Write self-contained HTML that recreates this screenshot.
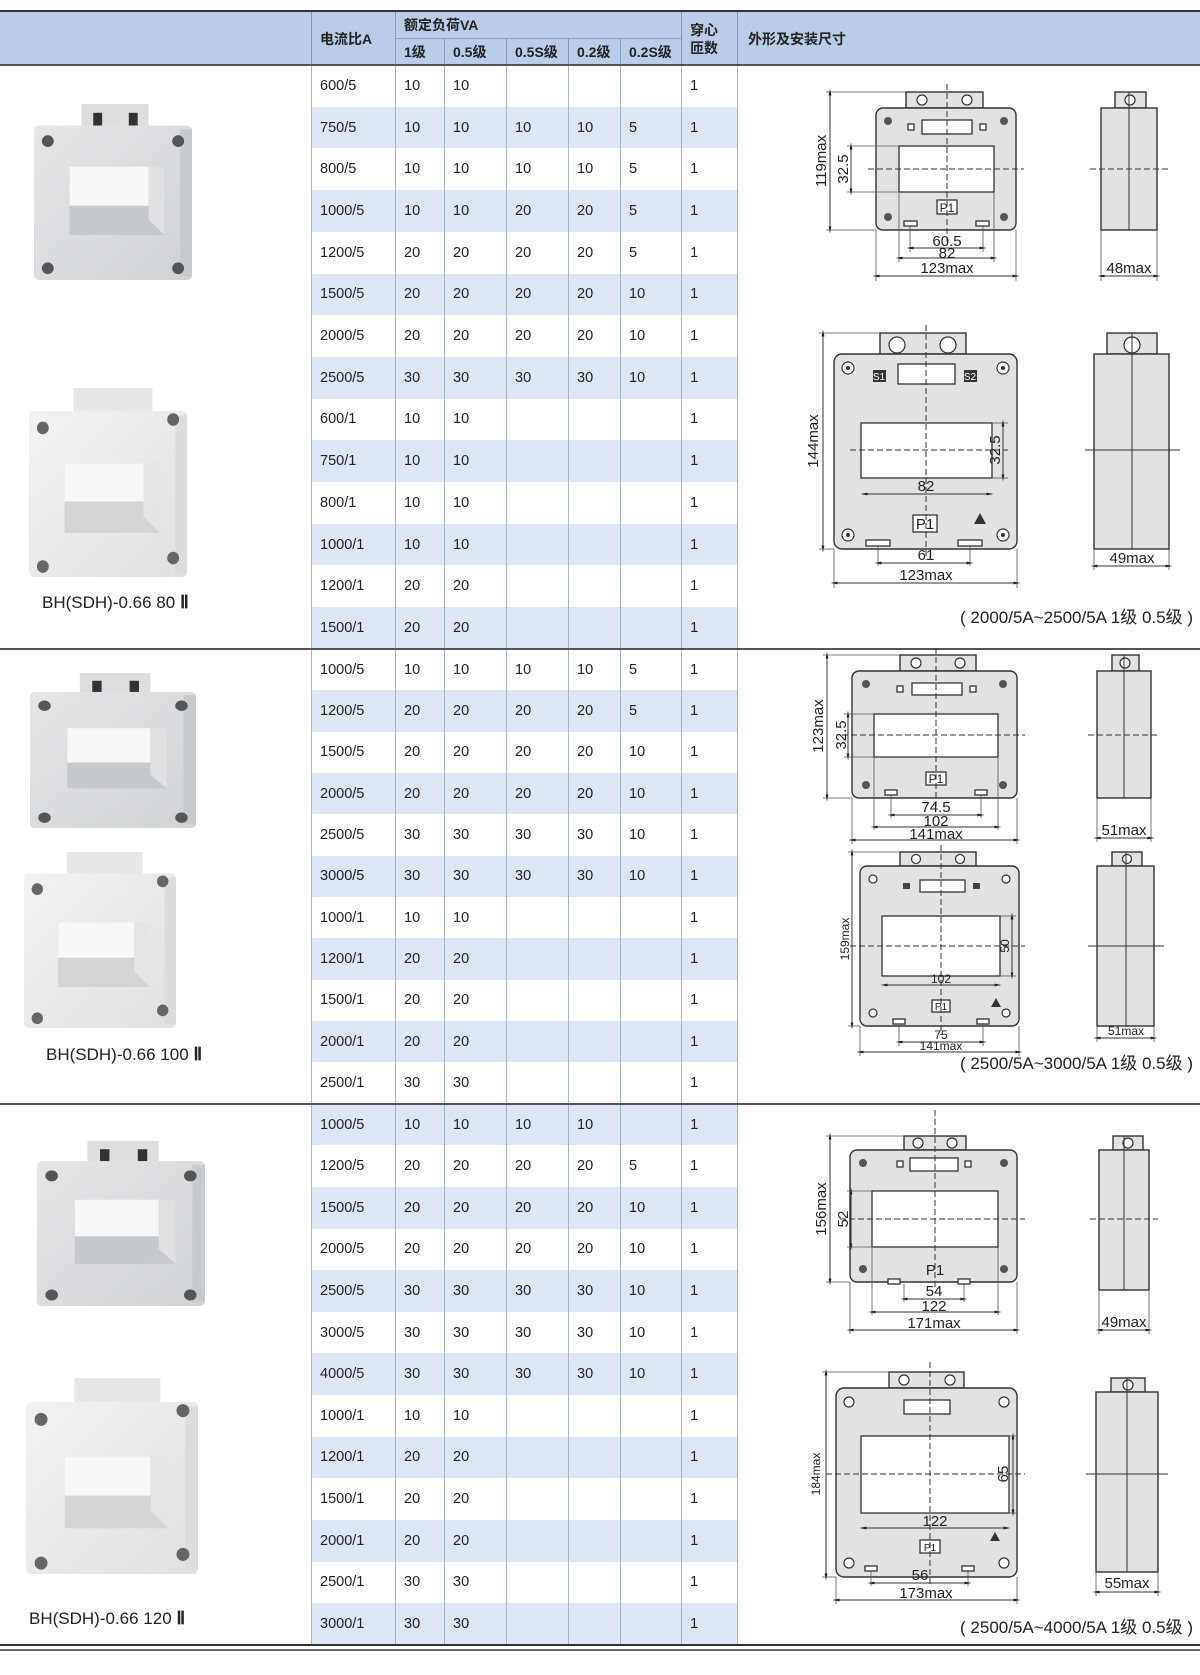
<!DOCTYPE html>
<html><head><meta charset="utf-8">
<style>
*{margin:0;padding:0;box-sizing:border-box}
body{width:1200px;height:1675px;background:#fff;position:relative;overflow:hidden;font-family:"Liberation Sans Narrow","Liberation Sans","Noto Sans CJK SC",sans-serif;color:#222}
table{position:absolute;left:0;top:12px;width:1200px;border-collapse:separate;border-spacing:0;table-layout:fixed}
td{padding:0 0 0 8px;font-size:14.5px;vertical-align:middle;white-space:nowrap;overflow:hidden}
.hd td{background:#b9cde9;font-weight:bold;font-size:14px;font-family:"Liberation Sans","Noto Sans CJK SC",sans-serif;border-left:1px solid #8399b8}
.hd td.n{border-left:none}
.r2 td{border-top:1px solid #8da4c4}
.m td{border-left:1px solid #a6b4c8}
.m td.L{border-left:none}
.b td.c{background:#dce6f4}
.s1{height:41.71px}.s2{height:41.36px}.s3{height:41.62px}
.ln{position:absolute;left:0;width:1200px}
.lbl{position:absolute;font-family:"Liberation Sans",sans-serif;font-size:17px;color:#222}
.lbl b{font-family:"Liberation Serif",serif;font-size:18px}
svg{position:absolute;left:0;top:0}
.B{fill:#e2e2e2;stroke:#333;stroke-width:1.4}
.W{fill:#fff;stroke:#333;stroke-width:1.3}
.S{fill:#fff;stroke:#333;stroke-width:1.2}
.C{stroke:#333;stroke-width:1;stroke-dasharray:6 3;fill:none}
.T{stroke:#333;stroke-width:1;fill:none}
.D{stroke:#333;stroke-width:1;fill:none;marker-start:url(#a);marker-end:url(#a)}
.E{stroke:#555;stroke-width:.8;fill:none}
.tx{font-family:"Liberation Sans",sans-serif;font-size:15px;fill:#222;text-anchor:middle}
.sm{font-size:12px}
</style></head><body>
<div class="ln" style="top:10px;height:2px;background:#333"></div>

<table>
<colgroup><col style="width:311px"><col style="width:84px"><col style="width:49px"><col style="width:62px"><col style="width:62px"><col style="width:52px"><col style="width:61px"><col style="width:56px"><col style="width:463px"></colgroup>
<tr class="hd" style="height:26px"><td class="n" rowspan="2"></td><td rowspan="2">电流比A</td><td colspan="5">额定负荷VA</td><td rowspan="2" style="line-height:18px">穿心<br>匝数</td><td rowspan="2" style="padding-left:10px">外形及安装尺寸</td></tr>
<tr class="hd r2" style="height:27px"><td>1级</td><td>0.5级</td><td>0.5S级</td><td>0.2级</td><td>0.2S级</td></tr>

<tr class="m s1"><td class="L" rowspan="14"></td><td class="c">600/5</td><td class="c">10</td><td class="c">10</td><td class="c"></td><td class="c"></td><td class="c"></td><td class="c">1</td><td rowspan="14"></td></tr>
<tr class="m s1 b"><td class="c">750/5</td><td class="c">10</td><td class="c">10</td><td class="c">10</td><td class="c">10</td><td class="c">5</td><td class="c">1</td></tr>
<tr class="m s1"><td class="c">800/5</td><td class="c">10</td><td class="c">10</td><td class="c">10</td><td class="c">10</td><td class="c">5</td><td class="c">1</td></tr>
<tr class="m s1 b"><td class="c">1000/5</td><td class="c">10</td><td class="c">10</td><td class="c">20</td><td class="c">20</td><td class="c">5</td><td class="c">1</td></tr>
<tr class="m s1"><td class="c">1200/5</td><td class="c">20</td><td class="c">20</td><td class="c">20</td><td class="c">20</td><td class="c">5</td><td class="c">1</td></tr>
<tr class="m s1 b"><td class="c">1500/5</td><td class="c">20</td><td class="c">20</td><td class="c">20</td><td class="c">20</td><td class="c">10</td><td class="c">1</td></tr>
<tr class="m s1"><td class="c">2000/5</td><td class="c">20</td><td class="c">20</td><td class="c">20</td><td class="c">20</td><td class="c">10</td><td class="c">1</td></tr>
<tr class="m s1 b"><td class="c">2500/5</td><td class="c">30</td><td class="c">30</td><td class="c">30</td><td class="c">30</td><td class="c">10</td><td class="c">1</td></tr>
<tr class="m s1"><td class="c">600/1</td><td class="c">10</td><td class="c">10</td><td class="c"></td><td class="c"></td><td class="c"></td><td class="c">1</td></tr>
<tr class="m s1 b"><td class="c">750/1</td><td class="c">10</td><td class="c">10</td><td class="c"></td><td class="c"></td><td class="c"></td><td class="c">1</td></tr>
<tr class="m s1"><td class="c">800/1</td><td class="c">10</td><td class="c">10</td><td class="c"></td><td class="c"></td><td class="c"></td><td class="c">1</td></tr>
<tr class="m s1 b"><td class="c">1000/1</td><td class="c">10</td><td class="c">10</td><td class="c"></td><td class="c"></td><td class="c"></td><td class="c">1</td></tr>
<tr class="m s1"><td class="c">1200/1</td><td class="c">20</td><td class="c">20</td><td class="c"></td><td class="c"></td><td class="c"></td><td class="c">1</td></tr>
<tr class="m s1 b"><td class="c">1500/1</td><td class="c">20</td><td class="c">20</td><td class="c"></td><td class="c"></td><td class="c"></td><td class="c">1</td></tr>

<tr class="m s2"><td class="L" rowspan="11"></td><td class="c">1000/5</td><td class="c">10</td><td class="c">10</td><td class="c">10</td><td class="c">10</td><td class="c">5</td><td class="c">1</td><td rowspan="11"></td></tr>
<tr class="m s2 b"><td class="c">1200/5</td><td class="c">20</td><td class="c">20</td><td class="c">20</td><td class="c">20</td><td class="c">5</td><td class="c">1</td></tr>
<tr class="m s2"><td class="c">1500/5</td><td class="c">20</td><td class="c">20</td><td class="c">20</td><td class="c">20</td><td class="c">10</td><td class="c">1</td></tr>
<tr class="m s2 b"><td class="c">2000/5</td><td class="c">20</td><td class="c">20</td><td class="c">20</td><td class="c">20</td><td class="c">10</td><td class="c">1</td></tr>
<tr class="m s2"><td class="c">2500/5</td><td class="c">30</td><td class="c">30</td><td class="c">30</td><td class="c">30</td><td class="c">10</td><td class="c">1</td></tr>
<tr class="m s2 b"><td class="c">3000/5</td><td class="c">30</td><td class="c">30</td><td class="c">30</td><td class="c">30</td><td class="c">10</td><td class="c">1</td></tr>
<tr class="m s2"><td class="c">1000/1</td><td class="c">10</td><td class="c">10</td><td class="c"></td><td class="c"></td><td class="c"></td><td class="c">1</td></tr>
<tr class="m s2 b"><td class="c">1200/1</td><td class="c">20</td><td class="c">20</td><td class="c"></td><td class="c"></td><td class="c"></td><td class="c">1</td></tr>
<tr class="m s2"><td class="c">1500/1</td><td class="c">20</td><td class="c">20</td><td class="c"></td><td class="c"></td><td class="c"></td><td class="c">1</td></tr>
<tr class="m s2 b"><td class="c">2000/1</td><td class="c">20</td><td class="c">20</td><td class="c"></td><td class="c"></td><td class="c"></td><td class="c">1</td></tr>
<tr class="m s2"><td class="c">2500/1</td><td class="c">30</td><td class="c">30</td><td class="c"></td><td class="c"></td><td class="c"></td><td class="c">1</td></tr>

<tr class="m s3 b"><td class="L" rowspan="13" style="background:none"></td><td class="c">1000/5</td><td class="c">10</td><td class="c">10</td><td class="c">10</td><td class="c">10</td><td class="c"></td><td class="c">1</td><td rowspan="13"></td></tr>
<tr class="m s3"><td class="c">1200/5</td><td class="c">20</td><td class="c">20</td><td class="c">20</td><td class="c">20</td><td class="c">5</td><td class="c">1</td></tr>
<tr class="m s3 b"><td class="c">1500/5</td><td class="c">20</td><td class="c">20</td><td class="c">20</td><td class="c">20</td><td class="c">10</td><td class="c">1</td></tr>
<tr class="m s3"><td class="c">2000/5</td><td class="c">20</td><td class="c">20</td><td class="c">20</td><td class="c">20</td><td class="c">10</td><td class="c">1</td></tr>
<tr class="m s3 b"><td class="c">2500/5</td><td class="c">30</td><td class="c">30</td><td class="c">30</td><td class="c">30</td><td class="c">10</td><td class="c">1</td></tr>
<tr class="m s3"><td class="c">3000/5</td><td class="c">30</td><td class="c">30</td><td class="c">30</td><td class="c">30</td><td class="c">10</td><td class="c">1</td></tr>
<tr class="m s3 b"><td class="c">4000/5</td><td class="c">30</td><td class="c">30</td><td class="c">30</td><td class="c">30</td><td class="c">10</td><td class="c">1</td></tr>
<tr class="m s3"><td class="c">1000/1</td><td class="c">10</td><td class="c">10</td><td class="c"></td><td class="c"></td><td class="c"></td><td class="c">1</td></tr>
<tr class="m s3 b"><td class="c">1200/1</td><td class="c">20</td><td class="c">20</td><td class="c"></td><td class="c"></td><td class="c"></td><td class="c">1</td></tr>
<tr class="m s3"><td class="c">1500/1</td><td class="c">20</td><td class="c">20</td><td class="c"></td><td class="c"></td><td class="c"></td><td class="c">1</td></tr>
<tr class="m s3 b"><td class="c">2000/1</td><td class="c">20</td><td class="c">20</td><td class="c"></td><td class="c"></td><td class="c"></td><td class="c">1</td></tr>
<tr class="m s3"><td class="c">2500/1</td><td class="c">30</td><td class="c">30</td><td class="c"></td><td class="c"></td><td class="c"></td><td class="c">1</td></tr>
<tr class="m s3 b"><td class="c">3000/1</td><td class="c">30</td><td class="c">30</td><td class="c"></td><td class="c"></td><td class="c"></td><td class="c">1</td></tr>
</table>

<div class="ln" style="top:64px;height:2px;background:#555"></div>
<div class="ln" style="top:648px;height:2px;background:#555"></div>
<div class="ln" style="top:1103px;height:2px;background:#555"></div>
<div class="ln" style="top:1644px;height:2px;background:#333"></div>
<div class="ln" style="top:1649px;height:2px;background:#666"></div>

<svg width="1200" height="1675" viewBox="0 0 1200 1675">
<defs>
<linearGradient id="g1" x1="0" y1="0" x2="1" y2="1"><stop offset="0" stop-color="#e4e6e8"/><stop offset="1" stop-color="#d0d3d6"/></linearGradient>
<linearGradient id="g2" x1="0" y1="0" x2="1" y2="1"><stop offset="0" stop-color="#f2f2f3"/><stop offset="1" stop-color="#dfe1e2"/></linearGradient>
<marker id="a" viewBox="0 0 10 10" refX="5" refY="5" markerWidth="7" markerHeight="7" orient="auto-start-reverse"><path d="M0,3 L10,5 L0,7 z" fill="#222"/></marker>
<g id="ph1">
<rect x="48" y="0" width="68" height="26" fill="#dcdee0"/><rect x="60" y="9" width="9" height="13" fill="#333"/><rect x="96" y="9" width="9" height="13" fill="#333"/>
<rect x="0" y="22" width="160" height="158" rx="5" fill="url(#g1)"/><rect x="148" y="26" width="12" height="150" fill="#c8cbce"/>
<rect x="36" y="64" width="96" height="70" fill="#c6c9cd"/><rect x="36" y="64" width="80" height="40" fill="#f6f7f8"/><polygon points="116,64 132,64 132,134 116,118" fill="#dfe1e3"/>
<circle cx="14" cy="38" r="6" fill="#555"/><circle cx="146" cy="38" r="6" fill="#555"/><circle cx="14" cy="168" r="6" fill="#555"/><circle cx="146" cy="168" r="6" fill="#555"/>
</g>
<g id="ph2">
<rect x="45" y="0" width="80" height="26" fill="#e6e7e8"/><rect x="0" y="22" width="160" height="158" rx="5" fill="url(#g2)"/><rect x="148" y="26" width="12" height="150" fill="#dadcde"/>
<rect x="36" y="72" width="96" height="66" fill="#d2d4d6"/><rect x="36" y="72" width="80" height="36" fill="#f8f8f9"/><polygon points="116,72 132,72 132,138 116,122" fill="#e4e5e6"/>
<circle cx="14" cy="38" r="6" fill="#666"/><circle cx="146" cy="30" r="6" fill="#666"/><circle cx="14" cy="170" r="6" fill="#666"/><circle cx="146" cy="162" r="6" fill="#666"/>
</g>
</defs>
<svg x="34" y="104" width="158" height="176" viewBox="0 0 160 180" preserveAspectRatio="none"><use href="#ph1"/></svg>
<svg x="29" y="388" width="158" height="189" viewBox="0 0 160 180" preserveAspectRatio="none"><use href="#ph2"/></svg>
<svg x="30" y="673" width="166" height="155" viewBox="0 0 160 180" preserveAspectRatio="none"><use href="#ph1"/></svg>
<svg x="24" y="852" width="152" height="176" viewBox="0 0 160 180" preserveAspectRatio="none"><use href="#ph2"/></svg>
<svg x="37" y="1141" width="168" height="165" viewBox="0 0 160 180" preserveAspectRatio="none"><use href="#ph1"/></svg>
<svg x="26" y="1378" width="172" height="196" viewBox="0 0 160 180" preserveAspectRatio="none"><use href="#ph2"/></svg>

<!-- D1 -->
<rect x="906" y="92" width="77" height="16" class="B"/><circle cx="922" cy="100" r="5" class="S"/><circle cx="967" cy="100" r="5" class="S"/>
<rect x="876" y="108" width="140" height="122" rx="7" class="B"/>
<circle cx="888" cy="121" r="4" fill="#555"/><circle cx="1004" cy="121" r="4" fill="#555"/><circle cx="888" cy="217" r="4" fill="#555"/><circle cx="1004" cy="217" r="4" fill="#555"/>
<rect x="922" y="120" width="50" height="14" class="W"/><rect x="908" y="124" width="6" height="6" class="W"/><rect x="980" y="124" width="6" height="6" class="W"/>
<rect x="899" y="146" width="95" height="46" class="W"/>
<rect x="937" y="200" width="20" height="14" class="W"/><text x="947" y="212" class="tx sm">P1</text>
<rect x="904" y="221" width="13" height="5" class="W"/><rect x="976" y="221" width="13" height="5" class="W"/>
<line x1="947" y1="84" x2="947" y2="242" class="C"/><line x1="868" y1="169" x2="1024" y2="169" class="C"/>
<line x1="830" y1="92" x2="830" y2="230" class="D"/><line x1="826" y1="92" x2="906" y2="92" class="E"/><line x1="826" y1="230" x2="876" y2="230" class="E"/>
<text transform="translate(826,161) rotate(-90)" class="tx">119max</text>
<line x1="851" y1="146" x2="851" y2="192" class="D"/><line x1="847" y1="146" x2="899" y2="146" class="E"/><line x1="847" y1="192" x2="899" y2="192" class="E"/>
<text transform="translate(848,169) rotate(-90)" class="tx">32.5</text>
<line x1="876" y1="230" x2="876" y2="281" class="E"/><line x1="1016" y1="230" x2="1016" y2="281" class="E"/><line x1="899" y1="192" x2="899" y2="262" class="E"/><line x1="994" y1="192" x2="994" y2="262" class="E"/><line x1="910" y1="226" x2="910" y2="252" class="E"/><line x1="983" y1="226" x2="983" y2="252" class="E"/>
<line x1="910" y1="248" x2="983" y2="248" class="D"/><text x="947" y="246" class="tx">60.5</text>
<line x1="899" y1="258" x2="994" y2="258" class="D"/><text x="947" y="258" class="tx">82</text>
<line x1="876" y1="276" x2="1016" y2="276" class="D"/><text x="947" y="273" class="tx">123max</text>
<rect x="1115" y="92" width="31" height="16" class="B"/><circle cx="1130" cy="100" r="5" class="S"/>
<rect x="1101" y="108" width="56" height="122" class="B"/><line x1="1129" y1="92" x2="1129" y2="230" class="T"/><line x1="1090" y1="169" x2="1168" y2="169" class="C"/>
<line x1="1101" y1="230" x2="1101" y2="281" class="E"/><line x1="1157" y1="230" x2="1157" y2="281" class="E"/>
<line x1="1101" y1="276" x2="1157" y2="276" class="D"/><text x="1129" y="273" class="tx">48max</text>

<!-- D2 -->
<rect x="880" y="333" width="86" height="21" class="B"/><circle cx="897" cy="345" r="8" class="S"/><circle cx="948" cy="345" r="8" class="S"/>
<rect x="834" y="354" width="183" height="195" rx="8" class="B"/>
<circle cx="848" cy="368" r="6" class="S"/><circle cx="1003" cy="368" r="6" class="S"/><circle cx="848" cy="535" r="6" class="S"/><circle cx="1003" cy="535" r="6" class="S"/>
<circle cx="848" cy="368" r="2" fill="#333"/><circle cx="1003" cy="368" r="2" fill="#333"/><circle cx="848" cy="535" r="2" fill="#333"/><circle cx="1003" cy="535" r="2" fill="#333"/>
<rect x="898" y="364" width="57" height="20" class="W"/>
<rect x="873" y="370" width="13" height="12" fill="#333"/><text x="879" y="380" class="tx sm" style="fill:#fff;font-size:10px">S1</text>
<rect x="964" y="370" width="13" height="12" fill="#333"/><text x="970" y="380" class="tx sm" style="fill:#fff;font-size:10px">S2</text>
<rect x="861" y="423" width="131" height="55" class="W"/>
<rect x="913" y="515" width="24" height="17" class="W"/><text x="925" y="529" class="tx">P1</text>
<polygon points="980,513 974,524 986,524" fill="#333"/>
<rect x="866" y="540" width="24" height="6" class="W"/><rect x="958" y="540" width="24" height="6" class="W"/>
<line x1="926" y1="325" x2="926" y2="560" class="C"/><line x1="850" y1="450" x2="1008" y2="450" class="C"/>
<line x1="823" y1="333" x2="823" y2="549" class="D"/><line x1="819" y1="333" x2="880" y2="333" class="E"/><line x1="819" y1="549" x2="834" y2="549" class="E"/>
<text transform="translate(818,441) rotate(-90)" class="tx">144max</text>
<line x1="1003" y1="423" x2="1003" y2="478" class="D"/><line x1="992" y1="423" x2="1008" y2="423" class="E"/><line x1="992" y1="478" x2="1008" y2="478" class="E"/>
<text transform="translate(1000,450) rotate(-90)" class="tx">32.5</text>
<line x1="864" y1="494" x2="990" y2="494" class="D"/><text x="926" y="491" class="tx">82</text>
<line x1="834" y1="549" x2="834" y2="588" class="E"/><line x1="1017" y1="549" x2="1017" y2="588" class="E"/><line x1="878" y1="546" x2="878" y2="566" class="E"/><line x1="970" y1="546" x2="970" y2="566" class="E"/>
<line x1="878" y1="563" x2="970" y2="563" class="D"/><text x="926" y="560" class="tx">61</text>
<line x1="834" y1="583" x2="1017" y2="583" class="D"/><text x="926" y="580" class="tx">123max</text>
<rect x="1107" y="333" width="50" height="21" class="B"/><circle cx="1132" cy="345" r="8" class="S"/>
<rect x="1094" y="354" width="75" height="195" class="B"/><line x1="1132" y1="333" x2="1132" y2="549" class="T"/><line x1="1085" y1="450" x2="1180" y2="450" class="T"/>
<line x1="1094" y1="549" x2="1094" y2="570" class="E"/><line x1="1169" y1="549" x2="1169" y2="570" class="E"/>
<line x1="1094" y1="566" x2="1169" y2="566" class="D"/><text x="1132" y="563" class="tx">49max</text>
<text x="1193" y="623" class="tx" style="text-anchor:end;font-size:17px;font-family:'Liberation Sans','Noto Sans CJK SC',sans-serif">( 2000/5A~2500/5A 1级 0.5级 )</text>

<!-- D3 -->
<rect x="900" y="655" width="76" height="16" class="B"/><circle cx="916" cy="663" r="5" class="S"/><circle cx="960" cy="663" r="5" class="S"/>
<rect x="852" y="671" width="165" height="127" rx="7" class="B"/>
<circle cx="866" cy="684" r="4" fill="#555"/><circle cx="1003" cy="684" r="4" fill="#555"/><circle cx="866" cy="785" r="4" fill="#555"/><circle cx="1003" cy="785" r="4" fill="#555"/>
<rect x="912" y="683" width="50" height="12" class="W"/><rect x="897" y="686" width="6" height="6" class="W"/><rect x="970" y="686" width="6" height="6" class="W"/>
<rect x="874" y="714" width="124" height="43" class="W"/>
<rect x="926" y="772" width="20" height="13" class="W"/><text x="936" y="783" class="tx sm">P1</text>
<rect x="885" y="790" width="12" height="5" class="W"/><rect x="975" y="790" width="12" height="5" class="W"/>
<line x1="936" y1="648" x2="936" y2="808" class="C"/><line x1="842" y1="735" x2="1025" y2="735" class="C"/>
<line x1="827" y1="655" x2="827" y2="798" class="D"/><line x1="823" y1="655" x2="900" y2="655" class="E"/><line x1="823" y1="798" x2="852" y2="798" class="E"/>
<text transform="translate(823,726) rotate(-90)" class="tx">123max</text>
<line x1="848" y1="714" x2="848" y2="757" class="D"/><line x1="844" y1="714" x2="874" y2="714" class="E"/><line x1="844" y1="757" x2="874" y2="757" class="E"/>
<text transform="translate(846,735) rotate(-90)" class="tx">32.5</text>
<line x1="852" y1="798" x2="852" y2="844" class="E"/><line x1="1017" y1="798" x2="1017" y2="844" class="E"/><line x1="874" y1="757" x2="874" y2="830" class="E"/><line x1="998" y1="757" x2="998" y2="830" class="E"/><line x1="891" y1="795" x2="891" y2="818" class="E"/><line x1="981" y1="795" x2="981" y2="818" class="E"/>
<line x1="891" y1="815" x2="981" y2="815" class="D"/><text x="936" y="812" class="tx">74.5</text>
<line x1="874" y1="827" x2="998" y2="827" class="D"/><text x="936" y="826" class="tx">102</text>
<line x1="852" y1="840" x2="1017" y2="840" class="D"/><text x="936" y="839" class="tx">141max</text>
<rect x="1112" y="655" width="27" height="16" class="B"/><circle cx="1125" cy="663" r="5" class="S"/>
<rect x="1097" y="671" width="54" height="127" class="B"/><line x1="1124" y1="655" x2="1124" y2="798" class="T"/><line x1="1088" y1="735" x2="1160" y2="735" class="C"/>
<line x1="1097" y1="798" x2="1097" y2="842" class="E"/><line x1="1151" y1="798" x2="1151" y2="842" class="E"/>
<line x1="1097" y1="838" x2="1151" y2="838" class="D"/><text x="1124" y="835" class="tx">51max</text>

<!-- D4 -->
<rect x="900" y="852" width="76" height="14" class="B"/><circle cx="916" cy="859" r="4.5" class="S"/><circle cx="960" cy="859" r="4.5" class="S"/>
<rect x="860" y="866" width="159" height="160" rx="7" class="B"/>
<circle cx="873" cy="879" r="4" class="S"/><circle cx="1006" cy="879" r="4" class="S"/><circle cx="873" cy="1013" r="4" class="S"/><circle cx="1006" cy="1013" r="4" class="S"/>
<rect x="920" y="880" width="45" height="12" class="W"/><rect x="903" y="883" width="7" height="6" fill="#444"/><rect x="973" y="883" width="7" height="6" fill="#444"/>
<rect x="882" y="916" width="118" height="60" class="W"/>
<rect x="932" y="1000" width="18" height="12" class="W"/><text x="941" y="1010" class="tx sm" style="font-size:10px">P1</text>
<polygon points="996,998 991,1007 1001,1007" fill="#333"/>
<rect x="893" y="1019" width="12" height="5" class="W"/><rect x="977" y="1019" width="12" height="5" class="W"/>
<line x1="941" y1="845" x2="941" y2="1035" class="C"/><line x1="850" y1="946" x2="1025" y2="946" class="C"/>
<line x1="852" y1="852" x2="852" y2="1026" class="D"/><line x1="848" y1="852" x2="900" y2="852" class="E"/><line x1="848" y1="1026" x2="860" y2="1026" class="E"/>
<text transform="translate(849,939) rotate(-90)" class="tx sm">159max</text>
<line x1="1012" y1="916" x2="1012" y2="976" class="D"/><line x1="1000" y1="916" x2="1016" y2="916" class="E"/><line x1="1000" y1="976" x2="1016" y2="976" class="E"/>
<text transform="translate(1009,946) rotate(-90)" class="tx sm">50</text>
<line x1="884" y1="985" x2="998" y2="985" class="D"/><text x="941" y="983" class="tx sm">102</text>
<line x1="860" y1="1026" x2="860" y2="1056" class="E"/><line x1="1019" y1="1026" x2="1019" y2="1056" class="E"/><line x1="899" y1="1024" x2="899" y2="1046" class="E"/><line x1="983" y1="1024" x2="983" y2="1046" class="E"/>
<line x1="899" y1="1042" x2="983" y2="1042" class="D"/><text x="941" y="1039" class="tx sm">75</text>
<line x1="860" y1="1052" x2="1019" y2="1052" class="D"/><text x="941" y="1050" class="tx sm">141max</text>
<rect x="1112" y="852" width="30" height="14" class="B"/><circle cx="1127" cy="859" r="4.5" class="S"/>
<rect x="1097" y="866" width="57" height="160" class="B"/><line x1="1126" y1="852" x2="1126" y2="1026" class="T"/><line x1="1088" y1="946" x2="1164" y2="946" class="T"/>
<line x1="1097" y1="1026" x2="1097" y2="1042" class="E"/><line x1="1154" y1="1026" x2="1154" y2="1042" class="E"/>
<line x1="1097" y1="1038" x2="1154" y2="1038" class="D"/><text x="1126" y="1035" class="tx sm">51max</text>
<text x="1193" y="1069" class="tx" style="text-anchor:end;font-size:17px;font-family:'Liberation Sans','Noto Sans CJK SC',sans-serif">( 2500/5A~3000/5A 1级 0.5级 )</text>

<!-- D5 -->
<rect x="904" y="1136" width="62" height="14" class="B"/><circle cx="918" cy="1143" r="5" class="S"/><circle cx="952" cy="1143" r="5" class="S"/>
<rect x="850" y="1150" width="167" height="132" rx="7" class="B"/>
<circle cx="863" cy="1163" r="4" fill="#555"/><circle cx="1004" cy="1163" r="4" fill="#555"/><circle cx="863" cy="1269" r="4" fill="#555"/><circle cx="1004" cy="1269" r="4" fill="#555"/>
<rect x="910" y="1158" width="48" height="13" class="W"/><rect x="897" y="1161" width="6" height="6" class="W"/><rect x="965" y="1161" width="6" height="6" class="W"/>
<rect x="872" y="1191" width="126" height="56" class="W"/>
<text x="935" y="1275" class="tx">P1</text>
<rect x="888" y="1279" width="12" height="5" class="W"/><rect x="958" y="1279" width="12" height="5" class="W"/>
<line x1="935" y1="1110" x2="935" y2="1290" class="C"/><line x1="840" y1="1219" x2="1025" y2="1219" class="C"/>
<line x1="830" y1="1136" x2="830" y2="1282" class="D"/><line x1="826" y1="1136" x2="904" y2="1136" class="E"/><line x1="826" y1="1282" x2="850" y2="1282" class="E"/>
<text transform="translate(826,1209) rotate(-90)" class="tx">156max</text>
<line x1="851" y1="1191" x2="851" y2="1247" class="D"/><line x1="847" y1="1191" x2="872" y2="1191" class="E"/><line x1="847" y1="1247" x2="872" y2="1247" class="E"/>
<text transform="translate(848,1219) rotate(-90)" class="tx">52</text>
<line x1="850" y1="1282" x2="850" y2="1334" class="E"/><line x1="1017" y1="1282" x2="1017" y2="1334" class="E"/><line x1="872" y1="1247" x2="872" y2="1315" class="E"/><line x1="998" y1="1247" x2="998" y2="1315" class="E"/><line x1="904" y1="1284" x2="904" y2="1302" class="E"/><line x1="964" y1="1284" x2="964" y2="1302" class="E"/>
<line x1="904" y1="1299" x2="964" y2="1299" class="D"/><text x="934" y="1296" class="tx">54</text>
<line x1="872" y1="1312" x2="998" y2="1312" class="D"/><text x="934" y="1311" class="tx">122</text>
<line x1="850" y1="1330" x2="1017" y2="1330" class="D"/><text x="934" y="1328" class="tx">171max</text>
<rect x="1113" y="1136" width="30" height="14" class="B"/><circle cx="1128" cy="1143" r="5" class="S"/>
<rect x="1099" y="1150" width="50" height="140" class="B"/><line x1="1124" y1="1136" x2="1124" y2="1290" class="T"/><line x1="1090" y1="1219" x2="1158" y2="1219" class="C"/>
<line x1="1099" y1="1290" x2="1099" y2="1334" class="E"/><line x1="1149" y1="1290" x2="1149" y2="1334" class="E"/>
<line x1="1099" y1="1330" x2="1149" y2="1330" class="D"/><text x="1124" y="1327" class="tx">49max</text>

<!-- D6 -->
<rect x="889" y="1372" width="75" height="16" class="B"/><circle cx="904" cy="1380" r="5" class="S"/><circle cx="950" cy="1380" r="5" class="S"/>
<rect x="836" y="1388" width="181" height="189" rx="8" class="B"/>
<circle cx="849" cy="1402" r="5" class="S"/><circle cx="1004" cy="1402" r="5" class="S"/><circle cx="849" cy="1563" r="5" class="S"/><circle cx="1004" cy="1563" r="5" class="S"/>
<rect x="904" y="1400" width="46" height="14" class="W"/>
<rect x="861" y="1436" width="148" height="77" class="W"/>
<rect x="920" y="1540" width="20" height="13" class="W"/><text x="930" y="1551" class="tx sm" style="font-size:10px">P1</text>
<polygon points="995,1532 990,1541 1000,1541" fill="#333"/>
<rect x="865" y="1566" width="12" height="5" class="W"/><rect x="962" y="1566" width="12" height="5" class="W"/>
<line x1="930" y1="1362" x2="930" y2="1585" class="C"/><line x1="826" y1="1474" x2="1025" y2="1474" class="C"/>
<line x1="826" y1="1372" x2="826" y2="1577" class="D"/><line x1="822" y1="1372" x2="889" y2="1372" class="E"/><line x1="822" y1="1577" x2="836" y2="1577" class="E"/>
<text transform="translate(820,1474) rotate(-90)" class="tx sm">184max</text>
<line x1="1013" y1="1436" x2="1013" y2="1513" class="D"/><line x1="1009" y1="1436" x2="1018" y2="1436" class="E"/><line x1="1009" y1="1513" x2="1018" y2="1513" class="E"/>
<text transform="translate(1008,1474) rotate(-90)" class="tx">65</text>
<line x1="863" y1="1528" x2="1007" y2="1528" class="D"/><text x="935" y="1526" class="tx">122</text>
<line x1="836" y1="1577" x2="836" y2="1604" class="E"/><line x1="1017" y1="1577" x2="1017" y2="1604" class="E"/><line x1="871" y1="1571" x2="871" y2="1586" class="E"/><line x1="968" y1="1571" x2="968" y2="1586" class="E"/>
<line x1="871" y1="1583" x2="968" y2="1583" class="D"/><text x="920" y="1580" class="tx">56</text>
<line x1="836" y1="1600" x2="1017" y2="1600" class="D"/><text x="926" y="1598" class="tx">173max</text>
<rect x="1111" y="1378" width="34" height="14" class="B"/><circle cx="1128" cy="1385" r="5" class="S"/>
<rect x="1096" y="1392" width="62" height="180" class="B"/><line x1="1127" y1="1378" x2="1127" y2="1572" class="T"/><line x1="1086" y1="1474" x2="1168" y2="1474" class="T"/>
<line x1="1096" y1="1572" x2="1096" y2="1596" class="E"/><line x1="1158" y1="1572" x2="1158" y2="1596" class="E"/>
<line x1="1096" y1="1592" x2="1158" y2="1592" class="D"/><text x="1127" y="1588" class="tx">55max</text>
<text x="1193" y="1633" class="tx" style="text-anchor:end;font-size:17px;font-family:'Liberation Sans','Noto Sans CJK SC',sans-serif">( 2500/5A~4000/5A 1级 0.5级 )</text>
</svg>

<div class="lbl" style="left:42px;top:592px">BH(SDH)-0.66 80 <b>Ⅱ</b></div>
<div class="lbl" style="left:46px;top:1044px">BH(SDH)-0.66 100 <b>Ⅱ</b></div>
<div class="lbl" style="left:29px;top:1608px">BH(SDH)-0.66 120 <b>Ⅱ</b></div>
</body></html>
